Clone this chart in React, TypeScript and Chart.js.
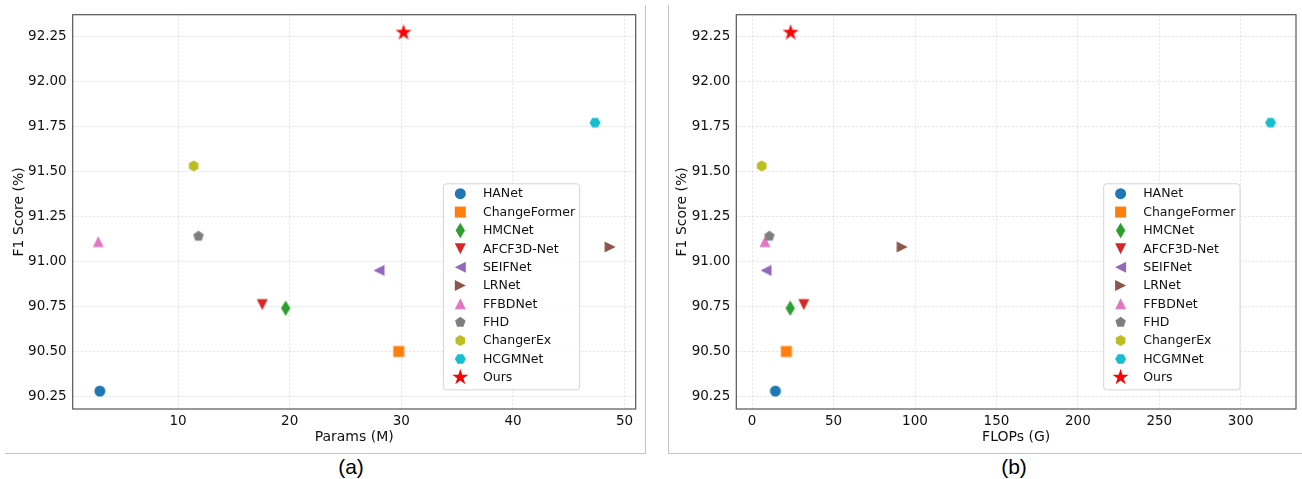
import React, { useEffect, useRef } from 'react';
import { Chart, registerables } from 'chart.js';

Chart.register(...registerables);

// ---------------- data ----------------
const methods = ['HANet', 'ChangeFormer', 'HMCNet', 'AFCF3D-Net', 'SEIFNet', 'LRNet', 'FFBDNet', 'FHD', 'ChangerEx', 'HCGMNet', 'Ours'];
const paramsM = [3.0, 29.77, 19.64, 17.54, 28.0, 48.7, 2.86, 11.83, 11.4, 47.35, 30.2];
const flopsG = [14.3, 21.0, 23.4, 31.7, 8.5, 92.1, 7.9, 10.6, 5.9, 318.3, 23.6];
const f1Scores = [90.28, 90.5, 90.74, 90.76, 90.95, 91.08, 91.11, 91.14, 91.53, 91.77, 92.27];
const markerColors = ['#1f77b4', '#ff7f0e', '#2ca02c', '#d62728', '#9467bd', '#8c564b', '#e377c2', '#7f7f7f', '#bcbd22', '#17becf', '#ff0000'];
const markerShapes = ['circle', 'square', 'thinDiamond', 'triangleDown', 'triangleLeft', 'triangleRight', 'triangleUp', 'pentagon', 'hexagon1', 'hexagon2', 'star'];
const f1Ticks = [90.25, 90.5, 90.75, 91.0, 91.25, 91.5, 91.75, 92.0, 92.25];
const paramsTicks = [10, 20, 30, 40, 50];
const flopsTicks = [0, 50, 100, 150, 200, 250, 300];

// ---------------- style ----------------
const FONT = "'DejaVu Sans', sans-serif";
const TEXT = '#111111';
const GRID = 'rgba(0,0,0,0.12)';
const MS = 11;
const STAR_MS = 17;
const CANVAS_H = 453;
const PLOT_TOP = 14.7;
const PLOT_BOTTOM = 409;

function tracePath(ctx: CanvasRenderingContext2D, shape: string, cx: number, cy: number) {
  const ms = shape === 'star' ? STAR_MS : MS;
  const h = ms / 2;
  const poly = (n: number, r: number, start: number) => {
    for (let k = 0; k < n; k++) {
      const a = start + (k * 2 * Math.PI) / n;
      const px = cx + r * Math.cos(a);
      const py = cy + r * Math.sin(a);
      if (k === 0) ctx.moveTo(px, py); else ctx.lineTo(px, py);
    }
    ctx.closePath();
  };
  ctx.beginPath();
  switch (shape) {
    case 'circle':
      ctx.arc(cx, cy, h, 0, Math.PI * 2);
      break;
    case 'square':
      ctx.rect(cx - h, cy - h, ms, ms);
      break;
    case 'thinDiamond': {
      const dh = (ms * Math.SQRT2) / 2;
      const dw = 0.6 * dh;
      ctx.moveTo(cx, cy - dh); ctx.lineTo(cx + dw, cy); ctx.lineTo(cx, cy + dh); ctx.lineTo(cx - dw, cy); ctx.closePath();
      break;
    }
    case 'triangleUp':
      ctx.moveTo(cx, cy - h); ctx.lineTo(cx + h, cy + h); ctx.lineTo(cx - h, cy + h); ctx.closePath();
      break;
    case 'triangleDown':
      ctx.moveTo(cx, cy + h); ctx.lineTo(cx - h, cy - h); ctx.lineTo(cx + h, cy - h); ctx.closePath();
      break;
    case 'triangleLeft':
      ctx.moveTo(cx - h, cy); ctx.lineTo(cx + h, cy - h); ctx.lineTo(cx + h, cy + h); ctx.closePath();
      break;
    case 'triangleRight':
      ctx.moveTo(cx + h, cy); ctx.lineTo(cx - h, cy - h); ctx.lineTo(cx - h, cy + h); ctx.closePath();
      break;
    case 'pentagon':
      poly(5, h, -Math.PI / 2);
      break;
    case 'hexagon1':
      poly(6, h, -Math.PI / 2);
      break;
    case 'hexagon2':
      poly(6, h, 0);
      break;
    case 'star': {
      const r = h * 0.381966;
      for (let k = 0; k < 10; k++) {
        const a = -Math.PI / 2 + (k * Math.PI) / 5;
        const rr = k % 2 === 0 ? h : r;
        const px = cx + rr * Math.cos(a);
        const py = cy + rr * Math.sin(a);
        if (k === 0) ctx.moveTo(px, py); else ctx.lineTo(px, py);
      }
      ctx.closePath();
      break;
    }
  }
}

function makeMarker(shape: string, color: string): HTMLCanvasElement {
  const c = document.createElement('canvas');
  c.width = 26;
  c.height = 26;
  const ctx = c.getContext('2d')!;
  ctx.fillStyle = color;
  tracePath(ctx, shape, 13, 13);
  ctx.fill();
  return c;
}

const framePlugin = {
  id: 'frame',
  afterDatasetsDraw(chart: any) {
    const { ctx, chartArea: a } = chart;
    ctx.save();
    ctx.strokeStyle = '#555555';
    ctx.lineWidth = 1.2;
    ctx.strokeRect(a.left, a.top, a.right - a.left, a.bottom - a.top);
    ctx.restore();
  },
};

const boxLegendPlugin = {
  id: 'boxLegend',
  afterDraw(chart: any) {
    const { ctx, chartArea: a } = chart;
    const boxW = 136.3;
    const boxH = 206;
    const right = a.right - 56.5;
    const bottom = a.bottom - 19.7;
    const left = right - boxW;
    const top = bottom - boxH;
    ctx.save();
    ctx.beginPath();
    if ((ctx as any).roundRect) (ctx as any).roundRect(left + 0.5, top + 0.5, boxW, boxH, 3);
    else ctx.rect(left + 0.5, top + 0.5, boxW, boxH);
    ctx.fillStyle = 'rgba(255,255,255,0.85)';
    ctx.fill();
    ctx.strokeStyle = '#d4d4d4';
    ctx.lineWidth = 1;
    ctx.stroke();
    const rowH = 18.36;
    chart.data.datasets.forEach((ds: any, i: number) => {
      const cy = top + 10.4 + i * rowH;
      ctx.fillStyle = markerColors[i];
      tracePath(ctx, markerShapes[i], left + 17.4, cy);
      ctx.fill();
      ctx.fillStyle = TEXT;
      ctx.font = `12.5px ${FONT}`;
      ctx.textAlign = 'left';
      ctx.textBaseline = 'middle';
      ctx.fillText(ds.label, left + 40, cy + 0.5);
    });
    ctx.restore();
  },
};

type PanelProps = {
  xs: number[];
  xTicks: number[];
  xTitle: string;
  canvasLeft: number;
  canvasWidth: number;
  plotLeft: number;
  plotRight: number;
  yTitleX: number;
};

function ScatterPanel({ xs, xTicks, xTitle, canvasLeft, canvasWidth, plotLeft, plotRight, yTitleX }: PanelProps) {
  const ref = useRef<HTMLCanvasElement>(null);
  useEffect(() => {
    const canvas = ref.current!;
    const markers = markerShapes.map((s, i) => makeMarker(s, markerColors[i]));
    const lo = Math.min(...xs);
    const hi = Math.max(...xs);
    const m = (hi - lo) * 0.05;
    const ylo = Math.min(...f1Scores);
    const yhi = Math.max(...f1Scores);
    const ym = (yhi - ylo) * 0.05;
    const n = methods.length;
    const chart = new Chart(canvas, {
      type: 'scatter',
      data: {
        datasets: methods.map((name, i) => ({
          label: name,
          data: [{ x: xs[i], y: f1Scores[i] }],
          pointStyle: markers[i] as any,
          pointRadius: 6,
          pointBorderWidth: 0,
          backgroundColor: markerColors[i],
          borderColor: markerColors[i],
          order: n - i,
        })),
      },
      options: {
        responsive: false,
        animation: false,
        devicePixelRatio: 1,
        events: [],
        layout: { padding: { left: 0, top: PLOT_TOP, right: canvasLeft + canvasWidth - plotRight, bottom: 0 } },
        plugins: { legend: { display: false }, tooltip: { enabled: false } },
        scales: {
          x: {
            type: 'linear',
            position: 'bottom',
            min: lo - m,
            max: hi + m,
            afterBuildTicks: (s: any) => { s.ticks = xTicks.map((v) => ({ value: v })); },
            afterFit: (s: any) => { s.height = CANVAS_H - PLOT_BOTTOM; },
            ticks: { padding: 4, color: TEXT, font: { size: 13.5, family: FONT }, autoSkip: false, maxRotation: 0, callback: (v: any) => String(v) },
            grid: { color: GRID, lineWidth: 0.8, drawTicks: false },
            border: { display: false, dash: [2.5, 1.5] },
            title: { display: true, text: xTitle, color: TEXT, font: { size: 14, family: FONT }, padding: { top: 0, bottom: 7.6 } },
          },
          y: {
            type: 'linear',
            position: 'left',
            min: ylo - ym,
            max: yhi + ym,
            afterBuildTicks: (s: any) => { s.ticks = f1Ticks.map((v) => ({ value: v })); },
            afterFit: (s: any) => { s.width = plotLeft - canvasLeft; },
            ticks: { padding: 6, color: TEXT, font: { size: 13.5, family: FONT }, autoSkip: false, callback: (v: any) => Number(v).toFixed(2) },
            grid: { color: GRID, lineWidth: 0.8, drawTicks: false },
            border: { display: false, dash: [2.5, 1.5] },
            title: { display: true, text: 'F1 Score (%)', color: TEXT, font: { size: 14, family: FONT }, padding: { top: yTitleX - canvasLeft - 8.4, bottom: 0 } },
          },
        },
      } as any,
      plugins: [framePlugin, boxLegendPlugin],
    });
    return () => chart.destroy();
  }, []);
  return (
    <canvas
      ref={ref}
      width={canvasWidth}
      height={CANVAS_H}
      style={{ position: 'absolute', left: canvasLeft, top: 0, width: canvasWidth, height: CANVAS_H }}
    />
  );
}

const lineStyle = (l: number, t: number, w: number, h: number): React.CSSProperties => ({
  position: 'absolute', left: l, top: t, width: w, height: h, background: '#c4c4c4',
});

const capStyle = (cx: number): React.CSSProperties => ({
  position: 'absolute', left: cx - 40, width: 80, top: 454, height: 26, lineHeight: '26px',
  textAlign: 'center', fontFamily: "'Liberation Sans', Arial, sans-serif", fontSize: 21, color: '#000',
});

export default function App() {
  return (
    <div style={{ position: 'absolute', left: 0, top: 0, width: 1302, height: 479, background: '#fff', overflow: 'hidden' }}>
      <ScatterPanel xs={paramsM} xTicks={paramsTicks} xTitle="Params (M)" canvasLeft={0} canvasWidth={645} plotLeft={72.7} plotRight={635.7} yTitleX={19.5} />
      <ScatterPanel xs={flopsG} xTicks={flopsTicks} xTitle="FLOPs (G)" canvasLeft={670} canvasWidth={632} plotLeft={736.3} plotRight={1299.3} yTitleX={682.5} />
      <div style={lineStyle(645, 5, 1, 448)} />
      <div style={lineStyle(5, 453, 641, 1)} />
      <div style={lineStyle(668, 5, 1, 448)} />
      <div style={lineStyle(668, 453, 634, 1)} />
      <div style={capStyle(351)}>(a)</div>
      <div style={capStyle(1014)}>(b)</div>
    </div>
  );
}
